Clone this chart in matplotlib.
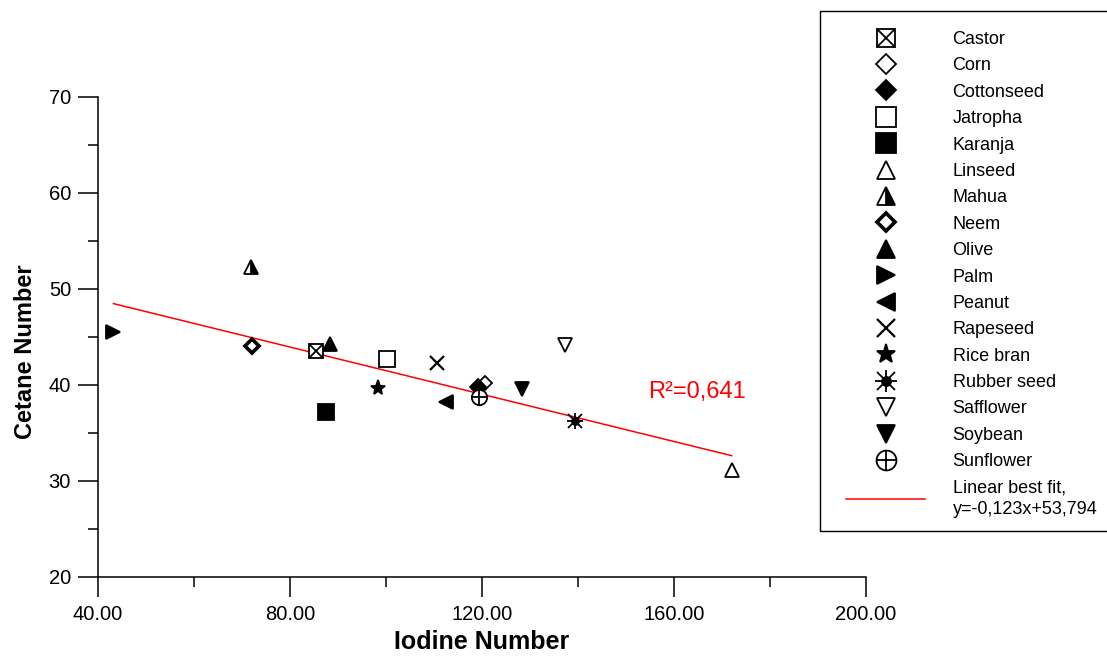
import matplotlib
matplotlib.use("Agg")
import matplotlib.pyplot as plt
from matplotlib.patches import Rectangle
from matplotlib.legend_handler import HandlerTuple
from matplotlib.ticker import MultipleLocator, FormatStrFormatter

plt.rcParams['font.family'] = ['Liberation Sans', 'DejaVu Sans']

# data
oils = ['Castor', 'Corn', 'Cottonseed', 'Jatropha', 'Karanja', 'Linseed', 'Mahua',
        'Neem', 'Olive', 'Palm', 'Peanut', 'Rapeseed', 'Rice bran', 'Rubber seed',
        'Safflower', 'Soybean', 'Sunflower']
iodine = [85.4, 120.6, 119.2, 100.3, 87.4, 172.0, 71.8,
          72.1, 88.3, 43.2, 112.6, 110.6, 98.4, 139.4,
          137.3, 128.3, 119.4]
cetane = [43.5, 40.2, 39.8, 42.7, 37.2, 31.1, 52.3,
          44.1, 44.3, 45.5, 38.2, 42.3, 39.7, 36.3,
          44.2, 39.6, 38.8]
fit_slope = -0.123
fit_intercept = 53.794
r2_label = 'R\u00b2=0,641'
fit_label = 'Linear best fit,\ny=-0,123x+53,794'

W, H = 1107, 658
K = 'black'

# marker layers per oil: list of (marker, size, facecolor, extra kwargs)
styles = {
    'Castor': [('s', 10.5, 'white', {}), ('x', 10.5, K, {})],
    'Corn': [('D', 7.5, 'white', {})],
    'Cottonseed': [('D', 8, K, {})],
    'Jatropha': [('s', 11, 'white', {})],
    'Karanja': [('s', 11.5, K, {})],
    'Linseed': [('^', 10, 'white', {})],
    'Mahua': [('^', 10, K, {'fillstyle': 'right', 'markerfacecoloralt': 'white'})],
    'Neem': [('D', 7, 'white', {'mew': 2.6})],
    'Olive': [('^', 10, K, {})],
    'Palm': [('>', 10.5, K, {})],
    'Peanut': [('<', 10.5, K, {})],
    'Rapeseed': [('x', 10, K, {'mew': 1.6})],
    'Rice bran': [('*', 11, K, {})],
    'Rubber seed': [('o', 5, K, {}), ('+', 12, K, {}), ('x', 10, K, {})],
    'Safflower': [('v', 10, 'white', {})],
    'Soybean': [('v', 10.5, K, {})],
    'Sunflower': [('o', 11, 'white', {}), ('+', 11, K, {})],
}

fig = plt.figure(figsize=(W / 100, H / 100), dpi=100)
ax = fig.add_axes([98 / W, 1 - 577 / H, (866 - 98) / W, (577 - 97) / H])

handles = []
for name, x, y in zip(oils, iodine, cetane):
    parts = []
    for m, ms, fc, kw in styles[name]:
        opts = dict(marker=m, ms=ms, mfc=fc, mec=K, mew=1.3, linestyle='none')
        opts.update(kw)
        ln, = ax.plot([x], [y], zorder=3, **opts)
        parts.append(ln)
    handles.append(tuple(parts))

x0, x1 = min(iodine), max(iodine)
fit_line, = ax.plot([x0, x1], [fit_slope * x0 + fit_intercept, fit_slope * x1 + fit_intercept],
                    color='#ff0000', lw=1.1, zorder=2)
handles.append(fit_line)

ax.text(154.6, 39.3, r2_label, color='#ff0000', fontsize=17, va='center', ha='left')

ax.set_xlim(40, 200)
ax.set_ylim(20, 70)
ax.xaxis.set_major_locator(MultipleLocator(40))
ax.xaxis.set_minor_locator(MultipleLocator(20))
ax.yaxis.set_major_locator(MultipleLocator(10))
ax.yaxis.set_minor_locator(MultipleLocator(5))
ax.xaxis.set_major_formatter(FormatStrFormatter('%.2f'))
for s in ('top', 'right'):
    ax.spines[s].set_visible(False)
for s in ('left', 'bottom'):
    ax.spines[s].set_linewidth(1.1)
ax.tick_params(which='major', length=14.4, width=1.1, labelsize=14.5, direction='out')
ax.tick_params(which='minor', length=7.2, width=1.1, direction='out')
ax.tick_params(axis='x', which='major', pad=6)
ax.tick_params(axis='y', which='major', pad=5)

ax.set_xlabel('Iodine Number', fontsize=18, fontweight='bold', labelpad=4)
ax.set_ylabel('Cetane Number', fontsize=17, fontweight='bold')
ax.yaxis.set_label_coords(-0.080, 0.47)

# legend frame drawn separately so it can run off the right edge like the original
fig.patches.append(Rectangle((820 / W, 1 - 531 / H), 400 / W, 520 / H, transform=fig.transFigure,
                             fill=False, edgecolor=K, lw=1.0))
leg = fig.legend(handles, oils + [fit_label], loc='upper left',
                 bbox_to_anchor=(846 / W, 1 - 31 / H), frameon=False, borderpad=0,
                 borderaxespad=0, fontsize=13, markerscale=1.3, handlelength=4.4,
                 handletextpad=1.5, labelspacing=0.52,
                 handler_map={tuple: HandlerTuple(ndivide=1)})
leg.get_texts()[-1].set_linespacing(1.35)

fig.savefig('out.png', dpi=100, facecolor='white')
